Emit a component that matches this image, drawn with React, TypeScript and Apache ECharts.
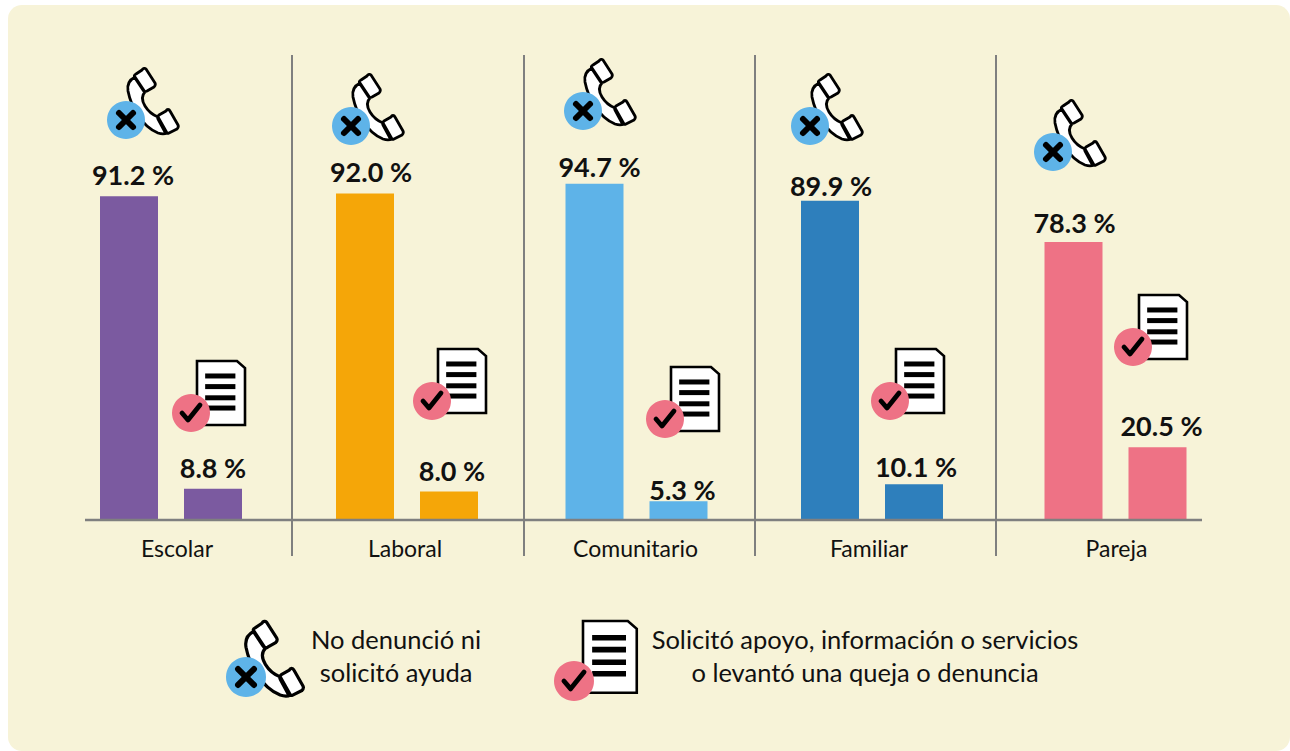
import React, { useEffect, useRef } from "react";
import * as echarts from "echarts";

const categories = ["Escolar", "Laboral", "Comunitario", "Familiar", "Pareja"];
const noDenuncio = [91.2, 92.0, 94.7, 89.9, 78.3];
const solicito = [8.8, 8.0, 5.3, 10.1, 20.5];
const colors = ["#7B5AA0", "#F5A608", "#5EB3E8", "#2E7FBC", "#EE7285"];
const barNames = ["No denunció", "Solicitó"];
const legendLeft = ["No denunció ni", "solicitó ayuda"];
const legendRight = ["Solicitó apoyo, información o servicios", "o levantó una queja o denuncia"];

const gridLefts = [87, 323, 552.5, 788, 1031.5];
const gridWidths = [168, 168, 168, 168, 168];
const labelShift = [6, -2, -1, -3, 1];
const separators = [292, 524, 755, 996];
const phoneAt = [[126, 120], [351, 126], [583, 111], [810, 126], [1053, 152]];
const docAt = [[191, 413], [432, 401], [665, 419], [890, 401], [1133, 347]];
const firstLabelNudge = [[4, -2], [6, -2], [5, 2], [1, 4], [1, 0]];
const secondLabelNudge = [[0, -2], [3, -2], [4, 8], [2, 2], [4, -2]];

const BG = "#F7F3D8";
const FONT = "Lato, sans-serif";
const BLUE = "#5EB3E8";
const PINK = "#EE7285";

echarts.graphic.registerShape(
  "phoneIcon",
  echarts.graphic.extendPath(
    "M7 9 C1 12 -1 17 0 23 C3 38 13 58 30 65 C33 66 37 66 39 65 L30 49 C25 47 20 43 17 38 C14 33 13 28 17 24 Z " +
      "M14 2 C15 0 17 0 18 1 L27 15 C28 17 27 18 26 19 L19 23 C17 24 16 24 15 22 L7 10 C6 8 6 7 8 6 Z " +
      "M38 43 C39 41 41 41 42 43 L50 57 C51 59 50 60 49 61 L41 65 C39 66 38 65 37 64 L30 51 C29 49 30 48 31 47 Z",
    {} as any
  ) as any
);

function phone(cx: number, cy: number, s: number, r: number, dx: number, dy: number) {
  return {
    type: "group",
    x: cx,
    y: cy,
    children: [
      {
        type: "phoneIcon",
        x: dx,
        y: dy,
        scaleX: s,
        scaleY: s,
        style: { fill: "#fff", stroke: "#000", lineWidth: 2.8, lineJoin: "round" },
      },
      { type: "circle", shape: { cx: 0, cy: 0, r }, style: { fill: BLUE } },
      { type: "line", shape: { x1: -7 * s, y1: -7 * s, x2: 7 * s, y2: 7 * s }, style: { stroke: "#000", lineWidth: 6, lineCap: "round" } },
      { type: "line", shape: { x1: 7 * s, y1: -7 * s, x2: -7 * s, y2: 7 * s }, style: { stroke: "#000", lineWidth: 6, lineCap: "round" } },
    ],
  };
}

function doc(cx: number, cy: number, s: number, r: number, dx: number, dy: number) {
  const L = dx, T = dy, W = 48 * s, H = 64 * s;
  const rows = [0.234, 0.4, 0.575, 0.735].map((f) => ({
    type: "line",
    shape: { x1: L + W * 0.17, y1: T + H * f, x2: L + W * 0.8, y2: T + H * f },
    style: { stroke: "#000", lineWidth: 5 * s },
  }));
  return {
    type: "group",
    x: cx,
    y: cy,
    children: [
      {
        type: "polygon",
        shape: { points: [[L, T], [L + W - 8 * s, T], [L + W, T + 7 * s], [L + W, T + H], [L, T + H]] },
        style: { fill: "#fff", stroke: "#000", lineWidth: 2.6 },
      },
      ...rows,
      { type: "circle", shape: { cx: 0, cy: 0, r }, style: { fill: PINK } },
      {
        type: "polyline",
        shape: { points: [[-9 * s, 0], [-3 * s, 7 * s], [9 * s, -8 * s]] },
        style: { stroke: "#000", fill: "none", lineWidth: 4.8, lineCap: "round", lineJoin: "round" },
      },
    ],
  };
}

const textStyle = (text: string, x: number, y: number) => ({
  type: "text",
  x,
  y,
  z: 6,
  style: { text, fill: "#111", font: `25.5px ${FONT}`, textAlign: "center", textVerticalAlign: "middle" },
});

export default function App() {
  const ref = useRef<HTMLDivElement>(null);
  useEffect(() => {
    const chart = echarts.init(ref.current!, undefined, { renderer: "svg" });
    const grids = categories.map((_, i) => ({ left: gridLefts[i], width: gridWidths[i], top: 165, height: 355 }));
    chart.setOption({
      animation: false,
      backgroundColor: "#fff",
      grid: grids,
      xAxis: categories.map((c, i) => ({
        type: "category",
        gridIndex: i,
        data: barNames,
        name: c,
        nameLocation: "middle",
        nameGap: 16,
        nameTextStyle: {
          fontFamily: FONT,
          fontSize: 23,
          color: "#111",
          padding: labelShift[i] >= 0 ? [0, 0, 0, labelShift[i] * 2] : [0, -labelShift[i] * 2, 0, 0],
        },
        axisLine: { show: false },
        axisTick: { show: false },
        axisLabel: { show: false },
      })),
      yAxis: categories.map((_, i) => ({
        type: "value",
        gridIndex: i,
        min: 0,
        max: 100,
        show: false,
        splitLine: { show: false },
      })),
      series: categories.map((c, i) => ({
        type: "bar",
        name: c,
        xAxisIndex: i,
        yAxisIndex: i,
        barWidth: 58,
        z: 3,
        data: [
          { value: noDenuncio[i], label: { offset: firstLabelNudge[i] } },
          { value: solicito[i], label: { offset: secondLabelNudge[i] } },
        ],
        itemStyle: { color: colors[i] },
        label: {
          show: true,
          position: "top",
          distance: 6,
          fontFamily: FONT,
          fontWeight: "bold",
          fontSize: 27,
          color: "#111",
          formatter: (p: any) => `${p.value.toFixed(1)} %`,
        },
      })),
      graphic: [
        {
          type: "rect",
          z: -10,
          shape: { x: 8, y: 5, width: 1282, height: 746, r: 14 },
          style: { fill: BG },
        },
        {
          type: "line",
          z: 5,
          shape: { x1: 85, y1: 520, x2: 1202, y2: 520 },
          style: { stroke: "#7F7F7F", lineWidth: 2.4 },
        },
        ...separators.map((x) => ({
          type: "line",
          z: 5,
          shape: { x1: x, y1: 55, x2: x, y2: 556 },
          style: { stroke: "#7F7F7F", lineWidth: 2 },
        })),
        ...phoneAt.map(([x, y]) => ({ ...phone(x, y, 1, 19, 2, -52), z: 6 })),
        ...docAt.map(([x, y]) => ({ ...doc(x, y, 1, 19, 6, -52), z: 6 })),
        { ...phone(246, 677, 1.14, 20, 0, -56), z: 6 },
        { ...doc(574, 681, 1.12, 20, 9, -60), z: 6 },
        textStyle(legendLeft[0], 396, 639),
        textStyle(legendLeft[1], 396, 672),
        textStyle(legendRight[0], 865, 639),
        textStyle(legendRight[1], 865, 672),
      ],
    });
    return () => chart.dispose();
  }, []);
  return <div ref={ref} style={{ position: "fixed", left: 0, top: 0, width: 1290, height: 751 }} />;
}
